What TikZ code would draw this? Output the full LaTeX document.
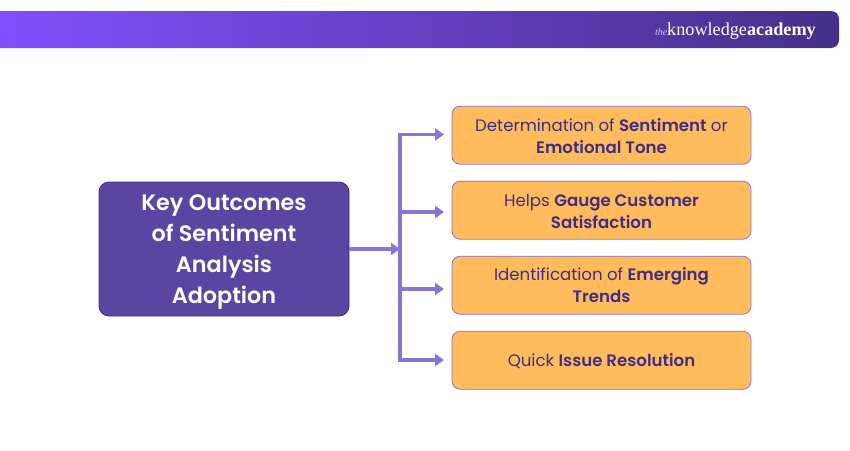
\documentclass[tikz,border=0pt]{standalone}
\usepackage{fontspec}
\setmainfont{Poppins}
\newfontfamily\logofont{Liberation Serif}
\newfontfamily\semifont{Poppins SemiBold}
\usetikzlibrary{calc}
\usetikzlibrary{arrows.meta}

\definecolor{bannerL}{HTML}{8350FF}
\definecolor{bannerR}{HTML}{453088}
\definecolor{mainfill}{HTML}{5A45A3}
\definecolor{mainedge}{HTML}{3F2D85}
\definecolor{boxfill}{HTML}{FFBB5C}
\definecolor{boxedge}{HTML}{8A75D6}
\definecolor{boxtext}{HTML}{3F2D85}

\tikzset{
  mainbox/.style={draw=mainedge, fill=mainfill, rounded corners=10pt, line width=0.8pt,
    minimum width=250pt, minimum height=134pt, inner sep=0pt},
  maintext/.style={inner sep=0pt, align=center,
    text=white, font=\semifont\fontsize{22.3}{31.2}\selectfont},
  outcome/.style={draw=boxedge, fill=boxfill, rounded corners=8pt, line width=0.8pt,
    minimum width=299pt, minimum height=58pt, inner sep=0pt},
  outcometext/.style={inner sep=0pt, align=center,
    text=boxtext, font=\fontsize{16.6}{22.8}\selectfont},
  link/.style={draw=boxedge, line width=3.2pt},
  linkarrow/.style={link, -{Triangle[length=9pt,width=12pt]}},
}
\newcommand{\keyword}[1]{{\semifont #1}}

\begin{document}
\begin{tikzpicture}[x=1pt,y=-1pt]
\useasboundingbox (0,0) rectangle (850,450);
\fill[white] (0,0) rectangle (850,450);

%================ BANNER ==================
\begin{scope}
  \clip[rounded corners=8pt] (-20,11) rectangle (839,48);
  \shade[left color=bannerL, right color=bannerR] (-20,11) rectangle (839,48);
\end{scope}
\node[text=white, anchor=east, inner sep=0pt] (logo) at (816,31.5)
  {\logofont\fontsize{18.2}{20}\selectfont{\itshape\fontsize{10}{12}\selectfont\color{white!75!bannerR}the}knowledge\textbf{academy}};

%================ BOXES ==================
\node[mainbox] (main) at (224,249) {};
\node[maintext] (maintitle) at (224,252) {Key Outcomes\\of Sentiment\\Analysis\\Adoption};

\node[outcome] (tone) at (601.5,135.2) {};
\node[outcome] (gauge) at (601.5,210.2) {};
\node[outcome] (trends) at (601.5,285.2) {};
\node[outcome] (issue) at (601.5,360.2) {};

\node[outcometext] (tonetext) at (601.5,136) {Determination of \keyword{Sentiment} or\\\keyword{Emotional Tone}};
\node[outcometext] (gaugetext) at (601.5,211.5) {Helps \keyword{Gauge Customer}\\\keyword{Satisfaction}};
\node[outcometext] (trendstext) at (601.5,285) {Identification of \keyword{Emerging}\\\keyword{Trends}};
\node[outcometext] (issuetext) at (601.5,361) {Quick \keyword{Issue Resolution}};

%================ ARROWS ==================
\coordinate (hub) at (400,249);
\coordinate (top) at (400,134.5);
\coordinate (bottom) at (400,360);
\coordinate (gaugeend) at (444,212);
\coordinate (trendsend) at (444,289);
\coordinate (toneend) at (444,134.5);
\coordinate (issueend) at (444,360);

\draw[link] (top) -- (bottom);
\draw[linkarrow] (main.east) -- (hub);
\draw[linkarrow] ([xshift=-1.6pt]top) -- (toneend);
\draw[linkarrow] (hub |- gaugeend) -- (gaugeend);
\draw[linkarrow] (hub |- trendsend) -- (trendsend);
\draw[linkarrow] ([xshift=-1.6pt]bottom) -- (issueend);

\end{tikzpicture}
\end{document}
